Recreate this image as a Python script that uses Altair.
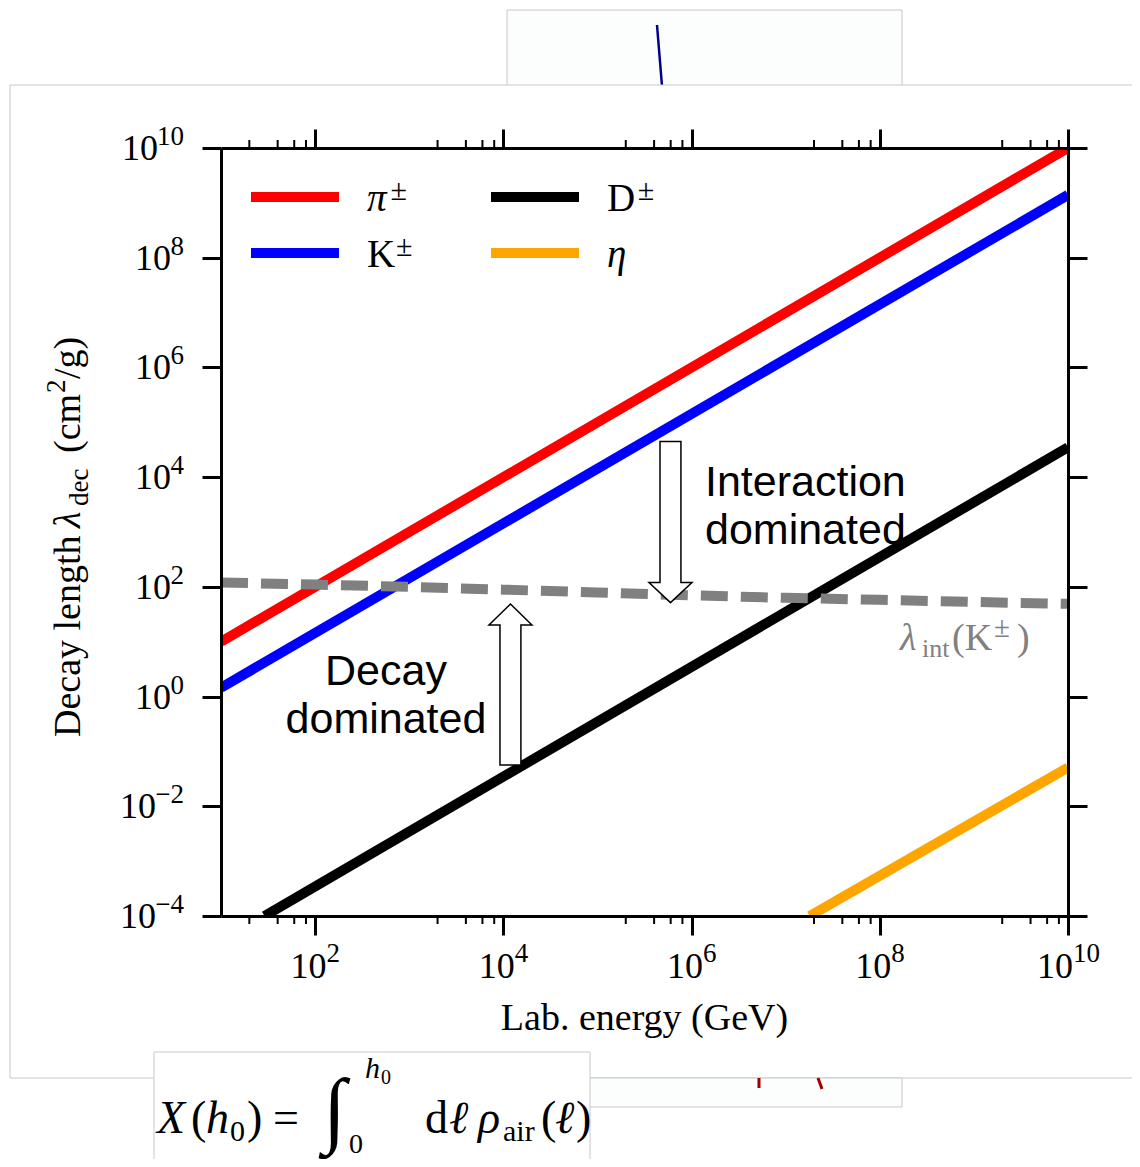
import altair as alt
import pandas as pd

# ---------------- data ----------------
series_names = ["π±", "K±", "D±", "η"]
series_colors = ["#ff0000", "#0000ff", "#000000", "#ffa500"]

pi_E = [1e1, 1e10]
pi_lam = [10.0, 1e10]
K_E = [1e1, 1e10]
K_lam = [1.45, 1.4e9]
D_E = [29.0, 1e10]
D_lam = [1e-4, 3.5e4]
eta_E = [1.8e7, 1e10]
eta_lam = [1e-4, 0.051]

lint_E = [1e1, 1e2, 1e3, 1e4, 1e5, 1e6, 1e7, 1e8, 1e9, 1e10]
lint_lam = [120, 110, 100, 89, 79, 70, 63, 58, 53, 49]

x_major = [1e2, 1e4, 1e6, 1e8, 1e10]
x_major_exp = ["2", "4", "6", "8", "10"]
x_minor = [20, 40, 60, 80, 2e3, 4e3, 6e3, 8e3, 2e5, 4e5, 6e5, 8e5,
           2e7, 4e7, 6e7, 8e7, 2e9, 4e9, 6e9, 8e9]
y_major = [1e-4, 1e-2, 1e0, 1e2, 1e4, 1e6, 1e8, 1e10]
y_major_exp = ["−4", "−2", "0", "2", "4", "6", "8", "10"]

# arrow centres (energy, decay length)
arrow_down = (5.97e5, 1514.0)
arrow_up = (1.19e4, 1.66)

# ---------------- layout / style ----------------
W, H = 847, 768
SERIF = "Liberation Serif"
SANS = "Liberation Sans"
GRAY = "#808080"
FRAME = "#c8c8c8"
BASE_FS, EXP_FS = 36, 27

xs = alt.Scale(type="log", domain=[1e1, 1e10], nice=False)
ys = alt.Scale(type="log", domain=[1e-4, 1e10], nice=False)

common = dict(grid=False, domainColor="black", domainWidth=3, tickColor="black",
              tickWidth=3, tickSize=19, labels=False, title=None, zindex=1)

ax_bottom = alt.Axis(orient="bottom", values=x_major, **common)
ax_top = alt.Axis(orient="top", values=x_major, **common)
ax_left = alt.Axis(orient="left", values=y_major, **common)
ax_right = alt.Axis(orient="right", values=y_major, **common)

one = pd.DataFrame({"k": [0]})


def txt(s, x, y, size, font=SERIF, style="normal", color="black", angle=0, align="left"):
    return alt.Chart(one).mark_text(
        text=s, font=font, fontSize=size, fontStyle=style, color=color,
        angle=angle, align=align, baseline="alphabetic"
    ).encode(x=alt.value(x), y=alt.value(y))


def rule(x, y, x2, y2, color, width):
    return alt.Chart(one).mark_rule(color=color, strokeWidth=width).encode(
        x=alt.value(x), y=alt.value(y), x2=alt.value(x2), y2=alt.value(y2))


def box(x, y, x2, y2, fill="white", stroke=FRAME):
    return alt.Chart(one).mark_rect(fill=fill, stroke=stroke, strokeWidth=1).encode(
        x=alt.value(x), y=alt.value(y), x2=alt.value(x2), y2=alt.value(y2))


def exp_width(e):
    return sum(15 if ch == "−" else 13 for ch in e)


layers = []

# ---- surrounding slide fragments (page px minus plot origin 221,148) ----
layers.append(box(286, -138, 681, -50, fill="#fcfdfd"))
layers.append(rule(436, -123, 441, -62, "#00008b", 2.5))
layers.append(box(-211, -63, 940, 930))

# ---- data lines ----
rows = []
for name, Es, Ls in zip(series_names, [pi_E, K_E, D_E, eta_E], [pi_lam, K_lam, D_lam, eta_lam]):
    for e, l in zip(Es, Ls):
        rows.append({"series": name, "E": e, "lam": l})
df_lines = pd.DataFrame(rows)

lines = alt.Chart(df_lines).mark_line(strokeWidth=10, clip=True, strokeCap="butt").encode(
    x=alt.X("E:Q", scale=xs, axis=ax_bottom),
    y=alt.Y("lam:Q", scale=ys, axis=ax_left),
    color=alt.Color("series:N", scale=alt.Scale(domain=series_names, range=series_colors),
                    legend=None),
)
layers.append(lines)

df_lint = pd.DataFrame({"E": lint_E, "lam": lint_lam})
dashed = alt.Chart(df_lint).mark_line(color=GRAY, strokeWidth=10, strokeDash=[27, 13],
                                      clip=True, strokeCap="butt").encode(
    x=alt.X("E:Q", scale=xs, axis=ax_top),
    y=alt.Y("lam:Q", scale=ys, axis=ax_right),
)
layers.append(dashed)

# minor ticks on x (bottom and top)
df_minor = pd.DataFrame({"v": x_minor})
layers.append(alt.Chart(df_minor).mark_rule(color="black", strokeWidth=2).encode(
    x=alt.X("v:Q", scale=xs, axis=None), y=alt.value(H), y2=alt.value(H + 8)))
layers.append(alt.Chart(df_minor).mark_rule(color="black", strokeWidth=2).encode(
    x=alt.X("v:Q", scale=xs, axis=None), y=alt.value(0), y2=alt.value(-8)))

# ---- tick labels 10^n built from the tick arrays ----
df_xl = pd.DataFrame({"v": x_major, "e": x_major_exp})
df_xl["w"] = df_xl["e"].map(exp_width)
for w, g in df_xl.groupby("w"):
    g = g.reset_index(drop=True)
    d = (BASE_FS - w) / 2
    layers.append(alt.Chart(g).mark_text(text="10", font=SERIF, fontSize=BASE_FS, align="right",
                                         baseline="alphabetic", dx=d, color="black").encode(
        x=alt.X("v:Q", scale=xs, axis=None), y=alt.value(H + 62)))
    layers.append(alt.Chart(g).mark_text(font=SERIF, fontSize=EXP_FS, align="left",
                                         baseline="alphabetic", dx=d, color="black").encode(
        x=alt.X("v:Q", scale=xs, axis=None), y=alt.value(H + 46), text="e:N"))

df_yl = pd.DataFrame({"v": y_major, "e": y_major_exp})
df_yl["w"] = df_yl["e"].map(exp_width)
for w, g in df_yl.groupby("w"):
    g = g.reset_index(drop=True)
    layers.append(alt.Chart(g).mark_text(text="10", font=SERIF, fontSize=BASE_FS, align="right",
                                         baseline="alphabetic", dy=12, color="black").encode(
        y=alt.Y("v:Q", scale=ys, axis=None), x=alt.value(-37 - int(w))))
    layers.append(alt.Chart(g).mark_text(font=SERIF, fontSize=EXP_FS, align="right",
                                         baseline="alphabetic", dy=-3, color="black").encode(
        y=alt.Y("v:Q", scale=ys, axis=None), x=alt.value(-37), text="e:N"))

# x-axis title
layers.append(txt("Lab. energy (GeV)", W / 2, 882, 38, align="center"))

# hollow arrows
DOWN = "M-0.13,-1L0.13,-1L0.13,0.75L0.267,0.75L0,1L-0.267,0.75L-0.13,0.75Z"
UP = "M-0.13,1L0.13,1L0.13,-0.74L0.267,-0.74L0,-1L-0.267,-0.74L-0.13,-0.74Z"
for shape, (ae, al) in [(DOWN, arrow_down), (UP, arrow_up)]:
    layers.append(alt.Chart(one).mark_point(
        shape=shape, size=161 * 161, filled=True, fill="white", stroke="black",
        strokeWidth=1.5, opacity=1).encode(
        x=alt.X(datum=ae, type="quantitative", scale=xs, axis=None),
        y=alt.Y(datum=al, type="quantitative", scale=ys, axis=None)))

# annotations
layers.append(txt("Interaction", 484, 348, 43, font=SANS))
layers.append(txt("dominated", 484, 396, 43, font=SANS))
layers.append(txt("Decay", 165, 537, 43, font=SANS, align="center"))
layers.append(txt("dominated", 165, 585, 43, font=SANS, align="center"))

# lambda_int(K±) label
layers.append(txt("λ", 679, 502, 38, style="italic", color=GRAY))
layers.append(txt("int", 701, 509, 26, color=GRAY))
layers.append(txt("(K", 731, 502, 38, color=GRAY))
layers.append(txt("±", 773, 489, 29, color=GRAY))
layers.append(txt(")", 796, 502, 38, color=GRAY))

# legend (built from series lists)
base_em = {"π±": 0.58, "K±": 0.72, "D±": 0.76, "η": 0.5}
for i, (name, color) in enumerate(zip(series_names, series_colors)):
    col, row = i // 2, i % 2
    x0 = 30 + col * 240
    ysw = 49 + row * 56
    layers.append(rule(x0, ysw, x0 + 88, ysw, color, 10))
    base = name[0]
    style = "italic" if base in "πη" else "normal"
    lx = x0 + 116
    layers.append(txt(base, lx, ysw + 14, 39, style=style))
    if name.endswith("±"):
        layers.append(txt("±", lx + base_em[name] * 39 + 1, ysw + 3, 30))

# y-axis title, rotated (pieces along the reading direction)
YT = -141
layers.append(txt("Decay length", YT, 589, 38, angle=270))
layers.append(txt("λ", YT, 380, 38, style="italic", angle=270))
layers.append(txt("dec", YT + 8, 358, 27, angle=270))
layers.append(txt("(cm", YT, 305, 38, angle=270))
layers.append(txt("2", YT - 15, 245, 27, angle=270))
layers.append(txt("/g)", YT, 231, 38, angle=270))

# bottom slide fragments
layers.append(box(368, 930, 681, 959, fill="#fcfdfd"))
layers.append(rule(538, 930, 538, 940, "#a00000", 3))
layers.append(rule(597, 930, 601, 941, "#a00000", 3))
layers.append(box(-67, 904, 369, 1030))

# formula X(h0) = int_0^h0 dl rho_air(l)
FB = 985
for s, x, y, size, style in [
    ("X", -64, FB, 46, "italic"), ("(", -30, FB, 46, "normal"), ("h", -15, FB, 46, "italic"),
    ("0", 9, FB + 8, 30, "normal"), (")", 26, FB, 46, "normal"), ("=", 52, FB, 46, "normal"),
    ("∫", 102, 989, 84, "normal"), ("h", 144, 930, 30, "italic"), ("0", 160, 936, 20, "normal"),
    ("0", 128, 1005, 28, "normal"), ("d", 204, FB, 46, "normal"), ("ℓ", 228, FB, 46, "italic"),
    ("ρ", 257, FB, 46, "italic"), ("air", 282, FB + 8, 30, "normal"), ("(", 320, FB, 46, "normal"),
    ("ℓ", 334, FB, 46, "italic"), (")", 355, FB, 46, "normal"),
]:
    layers.append(txt(s, x, y, size, style=style))

chart = alt.layer(*layers).properties(
    width=W, height=H,
    autosize=alt.AutoSizeParams(type="none"),
    padding={"left": 213, "top": 140, "right": 64, "bottom": 243},
).resolve_axis(x="independent", y="independent").configure_view(stroke=None)

chart.save("out.html", embed_options={"renderer": "svg", "actions": False})
